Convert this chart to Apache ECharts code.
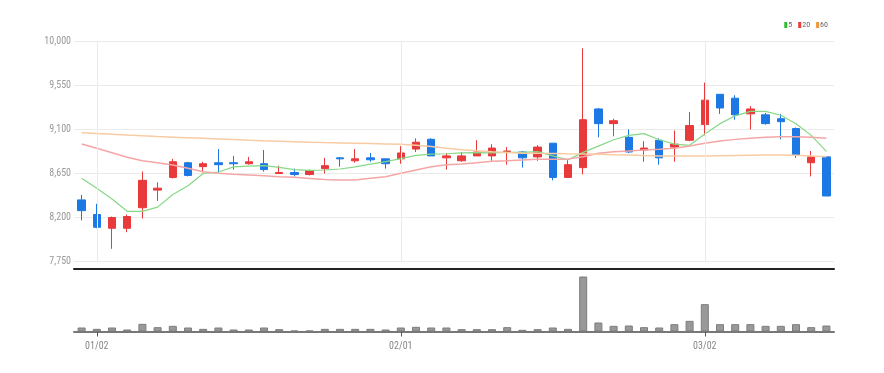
<!DOCTYPE html>
<html>
<head>
<meta charset="utf-8">
<script src="https://cdn.jsdelivr.net/npm/echarts@6/dist/echarts.min.js"></script>
<style>html,body{margin:0;padding:0;background:#fff}#c{width:884px;height:373px}</style>
</head>
<body>
<div id="c"></div>
<script>
const dates = ['12/30','01/02','01/03','01/06','01/07','01/08','01/09','01/10','01/13','01/14',
  '01/15','01/16','01/17','01/20','01/21','01/22','01/23','01/28','01/29','01/30',
  '01/31','02/01','02/04','02/05','02/06','02/07','02/10','02/11','02/12','02/13',
  '02/14','02/17','02/18','02/19','02/20','02/21','02/24','02/25','02/26','02/27',
  '02/28','03/02','03/03','03/04','03/05','03/06','03/09','03/10','03/11','03/12'];
const opens  = [8380,8230,8090,8090,8300,8480,8610,8760,8720,8760,8760,8750,8750,8650,8660,8640,8700,8810,8780,8810,
                8800,8800,8900,9000,8810,8780,8830,8830,8870,8870,8820,8960,8610,8710,9310,9160,9020,8890,8990,8920,
                8990,9150,9460,9420,9260,9250,9210,9110,8760,8820];
const closes = [8270,8100,8200,8210,8580,8500,8770,8630,8750,8740,8750,8770,8690,8660,8640,8680,8730,8800,8800,8790,
                8750,8860,8970,8830,8830,8830,8870,8910,8880,8810,8920,8610,8740,9200,9160,9190,8870,8910,8810,8950,
                9140,9400,9320,9250,9310,9160,9180,8840,8820,8420];
const lows   = [8170,8090,7880,8050,8190,8370,8600,8620,8660,8660,8690,8740,8670,8650,8620,8630,8650,8720,8760,8770,
                8700,8750,8870,8830,8690,8770,8830,8780,8740,8710,8780,8580,8610,8640,9020,9030,8860,8770,8740,8770,
                8980,9040,9260,9200,9100,9150,9000,8810,8620,8420];
const highs  = [8430,8340,8210,8230,8670,8560,8800,8770,8770,8900,8830,8820,8890,8730,8700,8690,8810,8820,8900,8860,
                8800,8930,9010,9010,8860,8870,8990,8950,8920,8880,8940,8960,8800,9930,9320,9210,9100,8980,9010,9090,
                9280,9580,9460,9450,9340,9270,9260,9120,8880,8820];
const ma5  = [8601,8499,8389,8263,8262,8306,8435,8525,8650,8665,8718,8725,8730,8712,8690,8682,8686,8696,8718,8745,
              8771,8802,8836,8848,8852,8860,8864,8860,8866,8866,8874,8830,8790,8866,8930,8995,9040,9058,8995,8950,
              8938,9055,9160,9240,9286,9285,9246,9158,9040,8876];
const ma20 = [8952,8908,8863,8816,8781,8760,8737,8703,8668,8652,8642,8635,8627,8617,8611,8600,8588,8583,8583,8601,
              8617,8652,8686,8720,8740,8747,8760,8775,8781,8788,8795,8795,8797,8822,8857,8873,8880,8890,8897,8908,
              8931,8959,8982,8999,9010,9020,9026,9026,9020,9010];
const ma60 = [9067,9060,9052,9043,9035,9028,9022,9016,9010,9004,8998,8991,8985,8980,8975,8970,8966,8963,8960,8956,
              8952,8948,8938,8926,8908,8892,8882,8873,8865,8858,8856,8855,8851,8849,8846,8842,8839,8834,8830,8829,
              8829,8830,8832,8834,8836,8838,8839,8836,8830,8822];
const volumes = [120,80,120,60,230,130,170,120,80,120,60,60,120,70,30,30,80,80,80,80,
                 60,120,140,120,120,70,70,70,130,50,70,120,80,1650,270,170,180,130,120,220,
                 320,820,220,220,220,170,170,220,130,180];
const yTicks = {min: 7750, max: 10000, step: 450};
const legendNames = ['5','20','60'];
const markedDates = ['01/02','02/01','03/02'];

const candleData = opens.map((o, i) => [o, closes[i], lows[i], highs[i]]);
const markedIdx = markedDates.map(d => dates.indexOf(d));
const showIdx = (i) => markedIdx.indexOf(i) >= 0;
const narrow = '"Liberation Sans Narrow", "Roboto Condensed", "Liberation Sans", sans-serif';
const UP = '#e8393b', DOWN = '#1c78e4';

const chart = echarts.init(document.getElementById('c'));
chart.setOption({
  animation: false,
  legend: {
    data: legendNames, right: 56, top: 21, itemWidth: 3, itemHeight: 6, itemGap: 6, padding: 0,
    icon: 'rect',
    textStyle: {fontFamily: narrow, fontSize: 8, color: '#666', padding: [0,0,0,-4]}
  },
  grid: [
    {left: 74, right: 50, top: 41.5, height: 220},
    {left: 74, right: 50, top: 276.5, height: 55}
  ],
  xAxis: [
    {type: 'category', gridIndex: 0, data: dates, boundaryGap: true, offset: 7,
     axisLine: {lineStyle: {color: '#222', width: 2}}, axisTick: {show: false}, axisLabel: {show: false},
     splitLine: {show: false}},
    {type: 'category', gridIndex: 1, data: dates, boundaryGap: true,
     axisLine: {lineStyle: {color: '#777', width: 2}},
     axisTick: {show: true, alignWithLabel: true, interval: (i) => showIdx(i), length: 5, lineStyle: {color: '#555', width: 1}},
     axisLabel: {interval: (i) => showIdx(i), color: '#888', fontFamily: narrow, fontSize: 10, margin: 10},
     splitLine: {show: false}}
  ],
  yAxis: [
    {type: 'value', gridIndex: 0, min: yTicks.min, max: yTicks.max, interval: yTicks.step,
     axisLine: {show: false}, axisTick: {show: false},
     axisLabel: {color: '#999', fontFamily: narrow, fontSize: 10, margin: 3,
       formatter: (v) => v.toString().replace(/\B(?=(\d{3})+(?!\d))/g, ',')},
     splitLine: {lineStyle: {color: '#ebebeb', width: 1}}},
    {type: 'value', gridIndex: 1, min: 0, max: 'dataMax', show: false, splitLine: {show: false}}
  ],
  series: [
    {type: 'line', name: 'grid-v', xAxisIndex: 0, yAxisIndex: 0, data: ma60, showSymbol: false, z: 0,
     lineStyle: {opacity: 0}, silent: true, legendHoverLink: false,
     markLine: {silent: true, symbol: 'none', label: {show: false}, animation: false,
       lineStyle: {color: '#ebebeb', width: 1, type: 'solid'},
       data: markedDates.map(d => ({xAxis: d}))}},
    {type: 'candlestick', name: 'price', xAxisIndex: 0, yAxisIndex: 0, data: candleData, barWidth: 8,
     itemStyle: {color: UP, color0: DOWN, borderColor: UP, borderColor0: DOWN, borderWidth: 1}},
    {type: 'line', name: '5', xAxisIndex: 0, yAxisIndex: 0, data: ma5, showSymbol: false,
     itemStyle: {color: '#2fbf2f'}, lineStyle: {color: '#86d886', width: 1.2}},
    {type: 'line', name: '20', xAxisIndex: 0, yAxisIndex: 0, data: ma20, showSymbol: false,
     itemStyle: {color: '#ee3b3b'}, lineStyle: {color: '#f4a6a6', width: 1.5}},
    {type: 'line', name: '60', xAxisIndex: 0, yAxisIndex: 0, data: ma60, showSymbol: false,
     itemStyle: {color: '#f0963a'}, lineStyle: {color: '#f8cba3', width: 1.5}},
    {type: 'bar', name: 'vol', xAxisIndex: 1, yAxisIndex: 1, data: volumes, barWidth: 8,
     itemStyle: {color: '#999', borderColor: '#7d7d7d', borderWidth: 1}}
  ]
});
</script>
</body>
</html>
